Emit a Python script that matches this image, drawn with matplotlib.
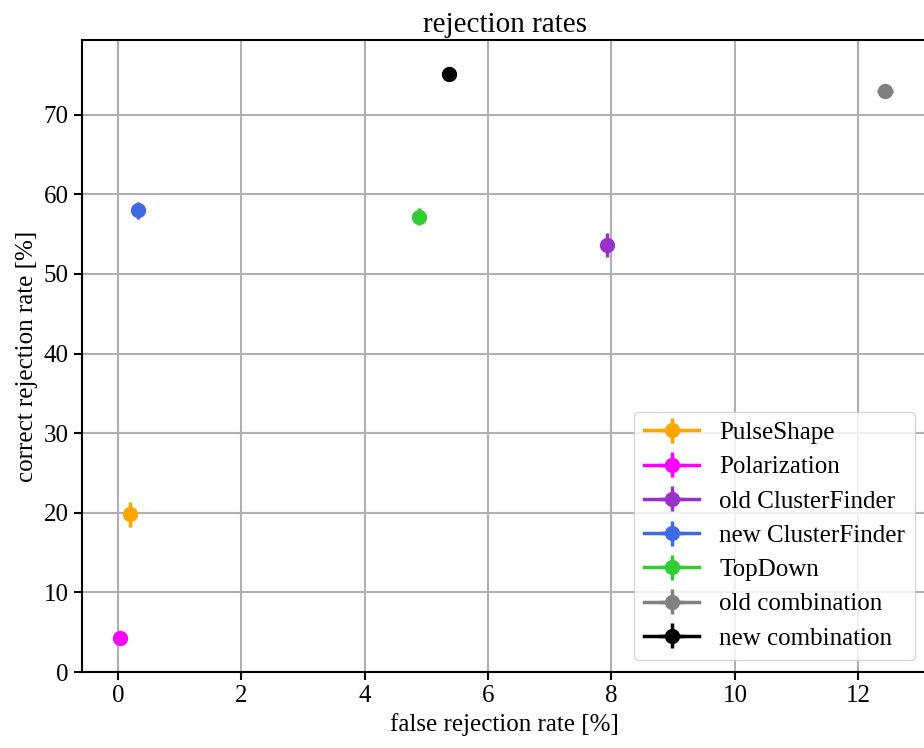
import matplotlib
matplotlib.use('Agg')

import numpy as np
import matplotlib.pyplot as plt

plt.rcParams['font.family'] = ['Liberation Serif', 'DejaVu Serif']

# rejection rates in percent
methods = ["PulseShape", "Polarization", "old ClusterFinder", "new ClusterFinder",
           "TopDown", "old combination", "new combination"]
colors = ["orange", "magenta", "darkorchid", "royalblue", "limegreen", "gray", "black"]
false_rate = [0.20, 0.03, 7.93, 0.33, 4.88, 12.44, 5.37]
false_err = [0.03, 0.02, 0.05, 0.04, 0.05, 0.13, 0.05]
correct_rate = [19.8, 4.3, 53.6, 58.0, 57.2, 73.0, 75.1]
correct_err = [1.6, 0.3, 1.5, 1.1, 1.1, 0.4, 0.3]

fig = plt.figure(figsize=(9.24, 7.48), dpi=100)
ax = fig.add_axes([0.0887, 0.1016, 0.915, 0.845])

for name, c, x, xe, y, ye in zip(methods, colors, false_rate, false_err,
                                 correct_rate, correct_err):
    ax.errorbar(x, y, xerr=xe, yerr=ye, marker='o', linestyle='-', color=c,
                markersize=10, linewidth=2.5, elinewidth=2.5, label=name, zorder=3)

ax.set_xlim(-0.58, 13.12)
ax.set_ylim(0, 79.4)
ax.set_xticks([0, 2, 4, 6, 8, 10, 12])
ax.set_yticks([0, 10, 20, 30, 40, 50, 60, 70])
ax.grid(True, color='#b0b0b0', linewidth=1.5, zorder=0)
ax.set_axisbelow(True)
ax.tick_params(labelsize=18, length=6, width=1.5)
for s in ax.spines.values():
    s.set_linewidth(1.5)

ax.set_title("rejection rates", fontsize=21)
ax.set_xlabel("false rejection rate [%]", fontsize=18)
ax.set_ylabel("correct rejection rate [%]", fontsize=18)
ax.legend(loc='lower right', fontsize=18, handlelength=2.2, labelspacing=0.47)

plt.savefig("out.png", dpi=100)
